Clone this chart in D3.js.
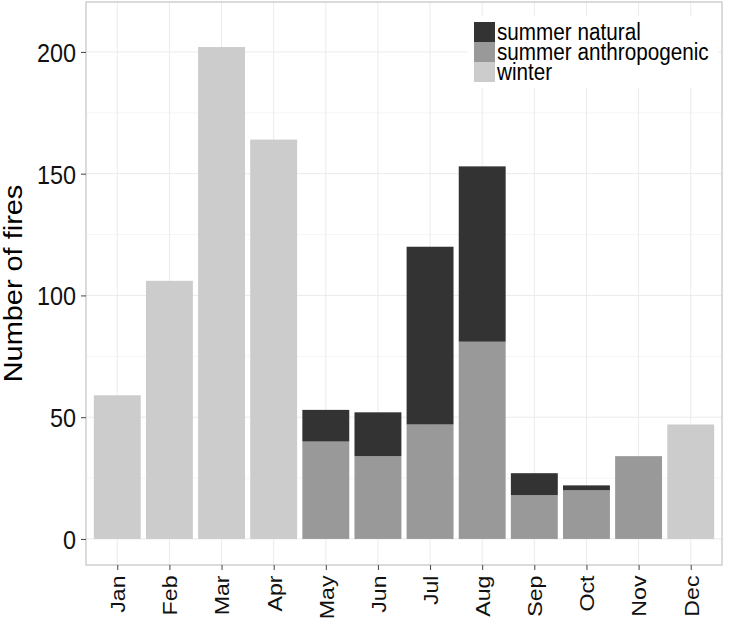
<!DOCTYPE html>
<html><head><meta charset="utf-8">
<script src="https://cdn.jsdelivr.net/npm/d3@7"></script>
<style>body{margin:0;background:#fff}svg text{font-family:"Liberation Sans",Arial,sans-serif}</style>
</head><body><svg id="c" width="729" height="621"></svg>
<script>
const months = ["Jan","Feb","Mar","Apr","May","Jun","Jul","Aug","Sep","Oct","Nov","Dec"];
const winter = [59,106,202,164,0,0,0,0,0,0,0,47];
const summerAnthropogenic = [0,0,0,0,40,34,47,81,18,20,34,0];
const summerNatural = [0,0,0,0,13,18,73,72,9,2,0,0];
const seriesNames = ["summer natural","summer anthropogenic","winter"];
const seriesColors = ["#333333","#999999","#cccccc"];
const yTicks = [0,50,100,150,200];
const yMinor = [25,75,125,175];

const S = 1.13; // vertical stretch of the reference's text
const svg = d3.select("#c");
const L = 86, R = 722, T = 2, B = 565;
const step = (R - L) / (11 + 1.2);
const x = d3.scalePoint().domain(months).range([L + 0.6*step, R - 0.6*step]);
const y = d3.scaleLinear().domain([-10.7, 220.5]).range([B, T]);

// grid
const g = svg.append("g");
yMinor.forEach(v => g.append("line").attr("x1",L).attr("x2",R).attr("y1",y(v)).attr("y2",y(v)).attr("stroke","#f5f5f5"));
yTicks.forEach(v => g.append("line").attr("x1",L).attr("x2",R).attr("y1",y(v)).attr("y2",y(v)).attr("stroke","#ebebeb"));
months.forEach(m => g.append("line").attr("x1",x(m)).attr("x2",x(m)).attr("y1",T).attr("y2",B).attr("stroke","#ebebeb"));

// stacked bars
const data = months.map((m,i) => ({month:m, "summer anthropogenic":summerAnthropogenic[i], "summer natural":summerNatural[i], "winter":winter[i]}));
const stacked = d3.stack().keys(["winter","summer anthropogenic","summer natural"])(data);
const color = d3.scaleOrdinal().domain(seriesNames).range(seriesColors);
const bw = step * 0.9;
svg.append("g").selectAll("g").data(stacked).join("g").attr("fill", d => color(d.key))
  .selectAll("rect").data(d => d.filter(s => s[1] > s[0])).join("rect")
  .attr("x", d => x(d.data.month) - bw/2).attr("width", bw)
  .attr("y", d => y(d[1])).attr("height", d => y(d[0]) - y(d[1]));

// legend
const lg = svg.append("g");
lg.append("rect").attr("x",468).attr("y",16).attr("width",250).attr("height",72).attr("fill","#fff");
seriesNames.forEach((s,k) => {
  lg.append("rect").attr("x",474).attr("y",22 + k*20).attr("width",21).attr("height",20).attr("fill",seriesColors[k]);
  lg.append("text").attr("transform",`translate(497,${22 + k*20 + 18}) scale(1,${S})`)
    .attr("font-size",20.7).attr("fill","#000").text(s);
});

// panel border
svg.append("rect").attr("x",L).attr("y",T).attr("width",R-L).attr("height",B-T).attr("fill","none").attr("stroke","#c4c4c4").attr("stroke-width",1.2);

// y axis
const ya = svg.append("g").attr("transform",`translate(${L},0)`)
  .call(d3.axisLeft(y).tickValues(yTicks).tickSize(5).tickPadding(5));
ya.select(".domain").remove();
ya.selectAll("line").attr("stroke","#444");
ya.selectAll("text").attr("font-size",23.4).attr("fill","#111")
  .attr("transform",`scale(1,${S})`).attr("dy","0.36em")
  .style("font-family","Liberation Sans, Arial, sans-serif");

// x axis
const xa = svg.append("g").attr("transform",`translate(0,${B})`)
  .call(d3.axisBottom(x).tickSize(5).tickPadding(4));
xa.select(".domain").remove();
xa.selectAll("line").attr("stroke","#444");
xa.selectAll("text").attr("font-size",20.5).attr("fill","#111")
  .attr("transform",`rotate(-90) scale(${S},1)`).attr("text-anchor","end")
  .attr("dy","0.36em").attr("x",-10.5/S).attr("y",0)
  .style("font-family","Liberation Sans, Arial, sans-serif");

// y title
svg.append("text").attr("transform",`translate(22,${(T+B)/2}) rotate(-90) scale(${S},1)`)
  .attr("text-anchor","middle").attr("font-size",25.6).attr("fill","#000").text("Number of fires");
</script></body></html>
